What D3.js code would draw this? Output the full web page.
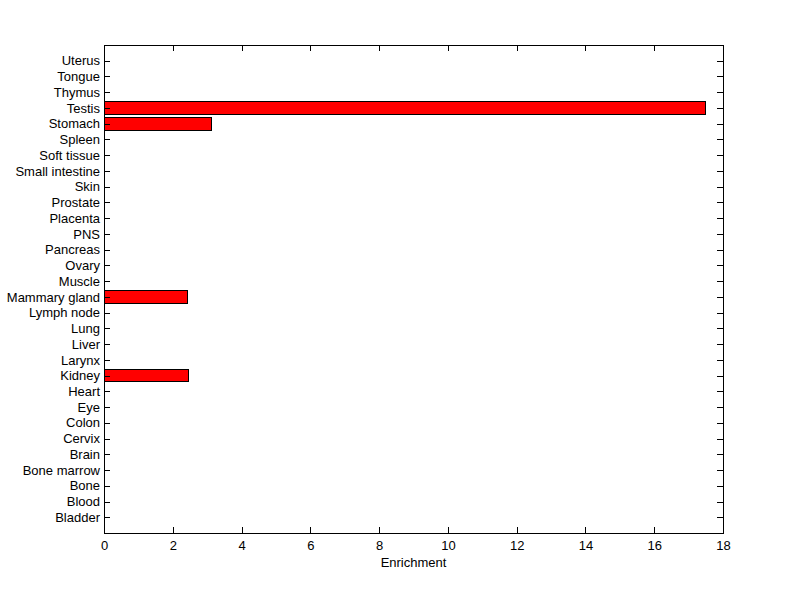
<!DOCTYPE html>
<html>
<head>
<meta charset="utf-8">
<script src="https://cdn.jsdelivr.net/npm/d3@7"></script>
<style>
  body { margin: 0; background: #fff; }
  text { font-family: "Liberation Sans", Arial, sans-serif; font-size: 13px; fill: #000; }
  rect, line { shape-rendering: crispEdges; }
</style>
</head>
<body>
<div id="chart"></div>
<script>
// Tissue categories, bottom to top
const tissues = ["Bladder", "Blood", "Bone", "Bone marrow", "Brain", "Cervix", "Colon", "Eye",
  "Heart", "Kidney", "Larynx", "Liver", "Lung", "Lymph node", "Mammary gland", "Muscle",
  "Ovary", "Pancreas", "PNS", "Placenta", "Prostate", "Skin", "Small intestine",
  "Soft tissue", "Spleen", "Stomach", "Testis", "Thymus", "Tongue", "Uterus"];
const enrichment = [0, 0, 0, 0, 0, 0, 0, 0,
  0, 2.46, 0, 0, 0, 0, 2.43, 0,
  0, 0, 0, 0, 0, 0, 0,
  0, 0, 3.14, 17.49, 0, 0, 0];
const xTicks = [0, 2, 4, 6, 8, 10, 12, 14, 16, 18];

const width = 800, height = 599;
const plot = { left: 104, right: 723, top: 45, bottom: 533 };
const tickLen = 6;

const svg = d3.select('#chart').append('svg')
    .attr('width', width)
    .attr('height', height);

const x = d3.scaleLinear().domain([0, 18]).range([plot.left, plot.right]);
// MATLAB style: categories at positions 1..n, axis from 0 to n+1
const y = d3.scaleLinear().domain([0, tissues.length + 1]).range([plot.bottom, plot.top]);
const barH = (y(0) - y(0.8));

// bars (zero-length ones are not drawn)
svg.selectAll('rect.bar')
    .data(tissues.map((t, i) => ({ name: t, value: enrichment[i], pos: i + 1 })).filter(d => d.value > 0))
    .enter().append('rect')
    .attr('class', 'bar')
    .attr('x', x(0))
    .attr('y', d => y(d.pos) - barH / 2)
    .attr('width', d => x(d.value) - x(0))
    .attr('height', barH)
    .attr('fill', '#ff0000')
    .attr('stroke', '#000')
    .attr('stroke-width', 1);

// axes
const bottomAxis = svg.append('g')
    .attr('transform', `translate(0,${plot.bottom})`)
    .call(d3.axisBottom(x).tickValues(xTicks).tickSize(-tickLen).tickPadding(8).tickFormat(d3.format('d')));
const topAxis = svg.append('g')
    .attr('transform', `translate(0,${plot.top})`)
    .call(d3.axisTop(x).tickValues(xTicks).tickSize(-tickLen).tickFormat(''));
const leftAxis = svg.append('g')
    .attr('transform', `translate(${plot.left},0)`)
    .call(d3.axisLeft(y).tickValues(d3.range(1, tissues.length + 1)).tickSize(-tickLen).tickPadding(4)
        .tickFormat(d => tissues[d - 1]));
const rightAxis = svg.append('g')
    .attr('transform', `translate(${plot.right},0)`)
    .call(d3.axisRight(y).tickValues(d3.range(1, tissues.length + 1)).tickSize(-tickLen).tickFormat(''));

[bottomAxis, topAxis, leftAxis, rightAxis].forEach(g => {
    g.select('.domain').remove();
    g.selectAll('line').attr('stroke', '#000');
    g.selectAll('text').attr('font-family', null).attr('font-size', null).attr('fill', '#000');
});

// box
svg.append('rect')
    .attr('x', plot.left).attr('y', plot.top)
    .attr('width', plot.right - plot.left).attr('height', plot.bottom - plot.top)
    .attr('fill', 'none').attr('stroke', '#000');

svg.append('text')
    .attr('x', (plot.left + plot.right) / 2)
    .attr('y', 567)
    .attr('text-anchor', 'middle')
    .text('Enrichment');
</script>
</body>
</html>
